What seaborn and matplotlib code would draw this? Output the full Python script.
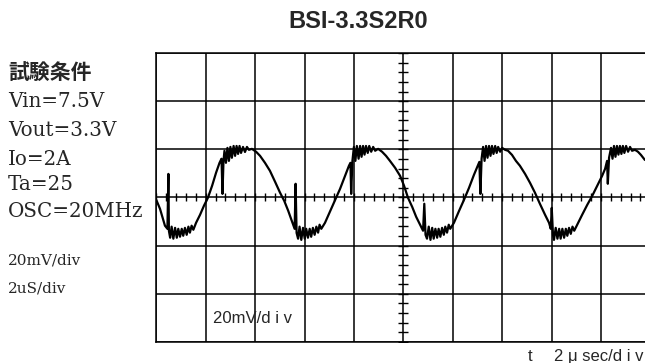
import numpy as np
import pandas as pd
import matplotlib
matplotlib.use("Agg")
import matplotlib.pyplot as plt
import seaborn as sns

# ---- data (time in µs, voltage in mV) ----
seg_a_t = [0.00, 0.15, 0.35, 0.45, 0.49, 0.51, 0.56, 0.62, 0.69, 0.76, 0.83, 0.89, 0.96, 1.03, 1.09,
           1.16, 1.23, 1.30, 1.36, 1.43, 1.50, 1.61, 1.77, 1.93, 2.09, 2.26, 2.42, 2.56, 2.64, 2.68,
           2.72, 2.76, 2.82, 2.88, 2.94, 3.00, 3.06, 3.13, 3.19, 3.25, 3.31, 3.37, 3.43, 3.51, 3.59,
           3.67, 3.75, 3.87, 4.04, 4.20, 4.40, 4.60, 4.81, 5.01, 5.18, 5.34, 5.50, 5.60, 5.64, 5.68]
seg_a_v = [-1.0, -4.7, -11.7, -13.0, 9.8, -13.8, -16.7, -12.1, -17.1, -12.6, -16.7, -13.0, -16.3, -13.0, -15.9,
           -12.6, -15.5, -12.1, -14.6, -11.7, -13.4, -10.5, -7.2, -3.4, -0.1, 4.9, 10.3, 14.4, 16.1, 1.5,
           15.2, 19.4, 14.4, 20.6, 15.2, 21.0, 16.5, 21.4, 17.3, 21.4, 18.1, 21.4, 18.5, 21.0, 18.9,
           21.0, 19.8, 20.2, 19.0, 17.3, 14.4, 11.1, 6.5, 2.0, -1.4, -5.5, -10.1, -13.0, 5.7, -14.7]

seg_b_t = [5.74, 5.80, 5.87, 5.94, 6.01, 6.07, 6.14, 6.21, 6.27, 6.34, 6.41, 6.48, 6.55, 6.61, 6.68,
           6.83, 7.03, 7.23, 7.44, 7.64, 7.80, 7.86, 7.89, 7.94, 8.00, 8.06, 8.12, 8.19, 8.25, 8.31,
           8.37, 8.43, 8.49, 8.56, 8.62, 8.70, 8.78, 8.86, 8.98, 9.14, 9.30, 9.46, 9.67, 9.87, 10.03,
           10.19, 10.36, 10.52, 10.68, 10.80, 10.85, 10.90]
seg_b_v = [-17.1, -12.1, -17.6, -12.6, -17.1, -13.0, -16.7, -13.0, -16.3, -12.6, -15.5, -12.1, -14.6, -11.3, -13.0,
           -10.5, -5.9, -1.4, 3.6, 9.0, 13.2, 14.4, 1.5, 15.2, 21.0, 15.2, 21.4, 16.1, 21.4, 16.9,
           21.4, 17.8, 21.4, 18.5, 21.4, 19.0, 21.0, 19.4, 20.2, 19.0, 17.3, 15.2, 12.3, 9.0, 4.9,
           -0.1, -3.9, -8.0, -11.3, -13.8, -2.6, -15.5]

seg_c_t = [10.96, 11.03, 11.10, 11.17, 11.23, 11.30, 11.37, 11.43, 11.50, 11.57, 11.64, 11.70, 11.77, 11.84, 11.90,
           12.05, 12.26, 12.46, 12.66, 12.86, 13.03, 13.08, 13.12, 13.17, 13.23, 13.29, 13.35, 13.41, 13.47, 13.53,
           13.59, 13.65, 13.72, 13.78, 13.84, 13.92, 14.00, 14.12, 14.24, 14.40, 14.56, 14.72, 14.93, 15.13, 15.33,
           15.53, 15.74, 15.90, 15.97, 16.01, 16.06]
seg_c_v = [-17.1, -12.1, -17.6, -12.6, -17.1, -13.0, -16.7, -13.0, -16.3, -12.6, -15.5, -12.1, -14.6, -11.3, -13.0,
           -10.5, -5.5, -0.9, 4.0, 9.4, 13.6, 14.8, 1.5, 16.1, 21.0, 15.2, 21.4, 16.5, 21.4, 17.3,
           21.4, 18.1, 21.4, 18.5, 21.0, 19.0, 20.6, 19.8, 19.4, 17.7, 15.2, 13.2, 9.8, 6.1, 2.0,
           -2.6, -7.2, -10.5, -13.0, -4.3, -15.5]

seg_d_t = [16.10, 16.17, 16.24, 16.31, 16.37, 16.44, 16.51, 16.58, 16.64, 16.71, 16.78, 16.85, 16.92, 17.04, 17.24,
           17.45, 17.65, 17.85, 18.05, 18.17, 18.25, 18.28, 18.33, 18.41, 18.47, 18.53, 18.59, 18.65, 18.71, 18.77,
           18.83, 18.89, 18.95, 19.02, 19.10, 19.18, 19.26, 19.38, 19.50, 19.62, 19.78]
seg_d_v = [-17.6, -12.6, -17.1, -13.0, -17.1, -13.0, -16.7, -13.0, -15.9, -12.6, -15.1, -12.1, -13.8, -11.3, -7.2,
           -3.0, 0.7, 4.9, 9.0, 11.9, 15.2, 5.7, 16.5, 20.6, 16.1, 21.4, 16.9, 21.4, 17.8, 21.4,
           18.1, 21.4, 18.5, 21.4, 19.0, 21.0, 19.4, 19.8, 19.0, 17.7, 15.6]

title = "BSI-3.3S2R0"
cond_title = "試験条件"
cond_lines = ["Vin=7.5V", "Vout=3.3V", "Io=2A", "Ta=25", "OSC=20MHz"]
scale_lines = ["20mV/div", "2uS/div"]
inner_label = "20mV/d i v"
time_label = "2 μ sec/d i v"

# ---- figure ----
sns.set_theme(style="white")
plt.rcParams["font.family"] = ["Liberation Sans", "DejaVu Sans"]

W, H = 645, 363
fig = plt.figure(figsize=(W / 100, H / 100), dpi=100)
fig.patch.set_facecolor("white")
ax = fig.add_axes([156.3 / W, 21 / H, 494 / W, 289 / H])
ax.set_facecolor("white")

df = pd.DataFrame({"t": seg_a_t + seg_b_t + seg_c_t + seg_d_t,
                   "v": seg_a_v + seg_b_v + seg_c_v + seg_d_v})
sns.lineplot(data=df, x="t", y="v", ax=ax, color="black", linewidth=1.6,
             sort=False, estimator=None, zorder=3)

ax.set_xlim(0, 20)
ax.set_ylim(-60, 60)
ax.set_xticks(np.arange(0, 20.01, 2))
ax.set_yticks(np.arange(-60, 60.01, 20))
ax.grid(True, color="black", linewidth=1.1)
ax.tick_params(length=0, labelbottom=False, labelleft=False)
ax.set_xlabel("")
ax.set_ylabel("")
for s in ax.spines.values():
    s.set_color("black")
    s.set_linewidth(1.1)

# graticule sub-division marks on the centre axes
xs = np.arange(0, 20.01, 0.4)
ax.plot(xs, np.zeros_like(xs), ls="none", marker="|", ms=6, mew=1.0, color="black", zorder=2)
ys = np.arange(-60, 60.01, 4)
ax.plot(np.full_like(ys, 10.0), ys, ls="none", marker="_", ms=7, mew=1.0, color="black", zorder=2)

ax.text(2.28, -52.3, inner_label, fontsize=12, va="baseline", ha="left",
        family=["Liberation Sans", "DejaVu Sans"])

# ---- texts ----
def fy(py):
    return 1 - py / H

fig.text(358 / W, fy(21), title, ha="center", va="center", fontsize=17, fontweight="bold",
         family=["Liberation Sans", "DejaVu Sans"])
fig.text(8 / W, fy(80), cond_title, ha="left", va="baseline", fontsize=15, fontweight="bold",
         family=["Noto Sans CJK JP", "DejaVu Sans"])
for txt, by in zip(cond_lines, [107.3, 136, 165, 190, 216.7]):
    fig.text(8 / W, fy(by), txt, ha="left", va="baseline", fontsize=14.3,
             family=["DejaVu Serif"])
for txt, by in zip(scale_lines, [265, 293]):
    fig.text(8 / W, fy(by), txt, ha="left", va="baseline", fontsize=11,
             family=["DejaVu Serif"])
fig.text(528 / W, fy(361), "t", ha="left", va="baseline", fontsize=12,
         family=["Liberation Sans", "DejaVu Sans"])
fig.text(643 / W, fy(361), time_label, ha="right", va="baseline", fontsize=12,
         family=["Liberation Sans", "DejaVu Sans"])

fig.savefig("out.png", dpi=100, facecolor="white")
